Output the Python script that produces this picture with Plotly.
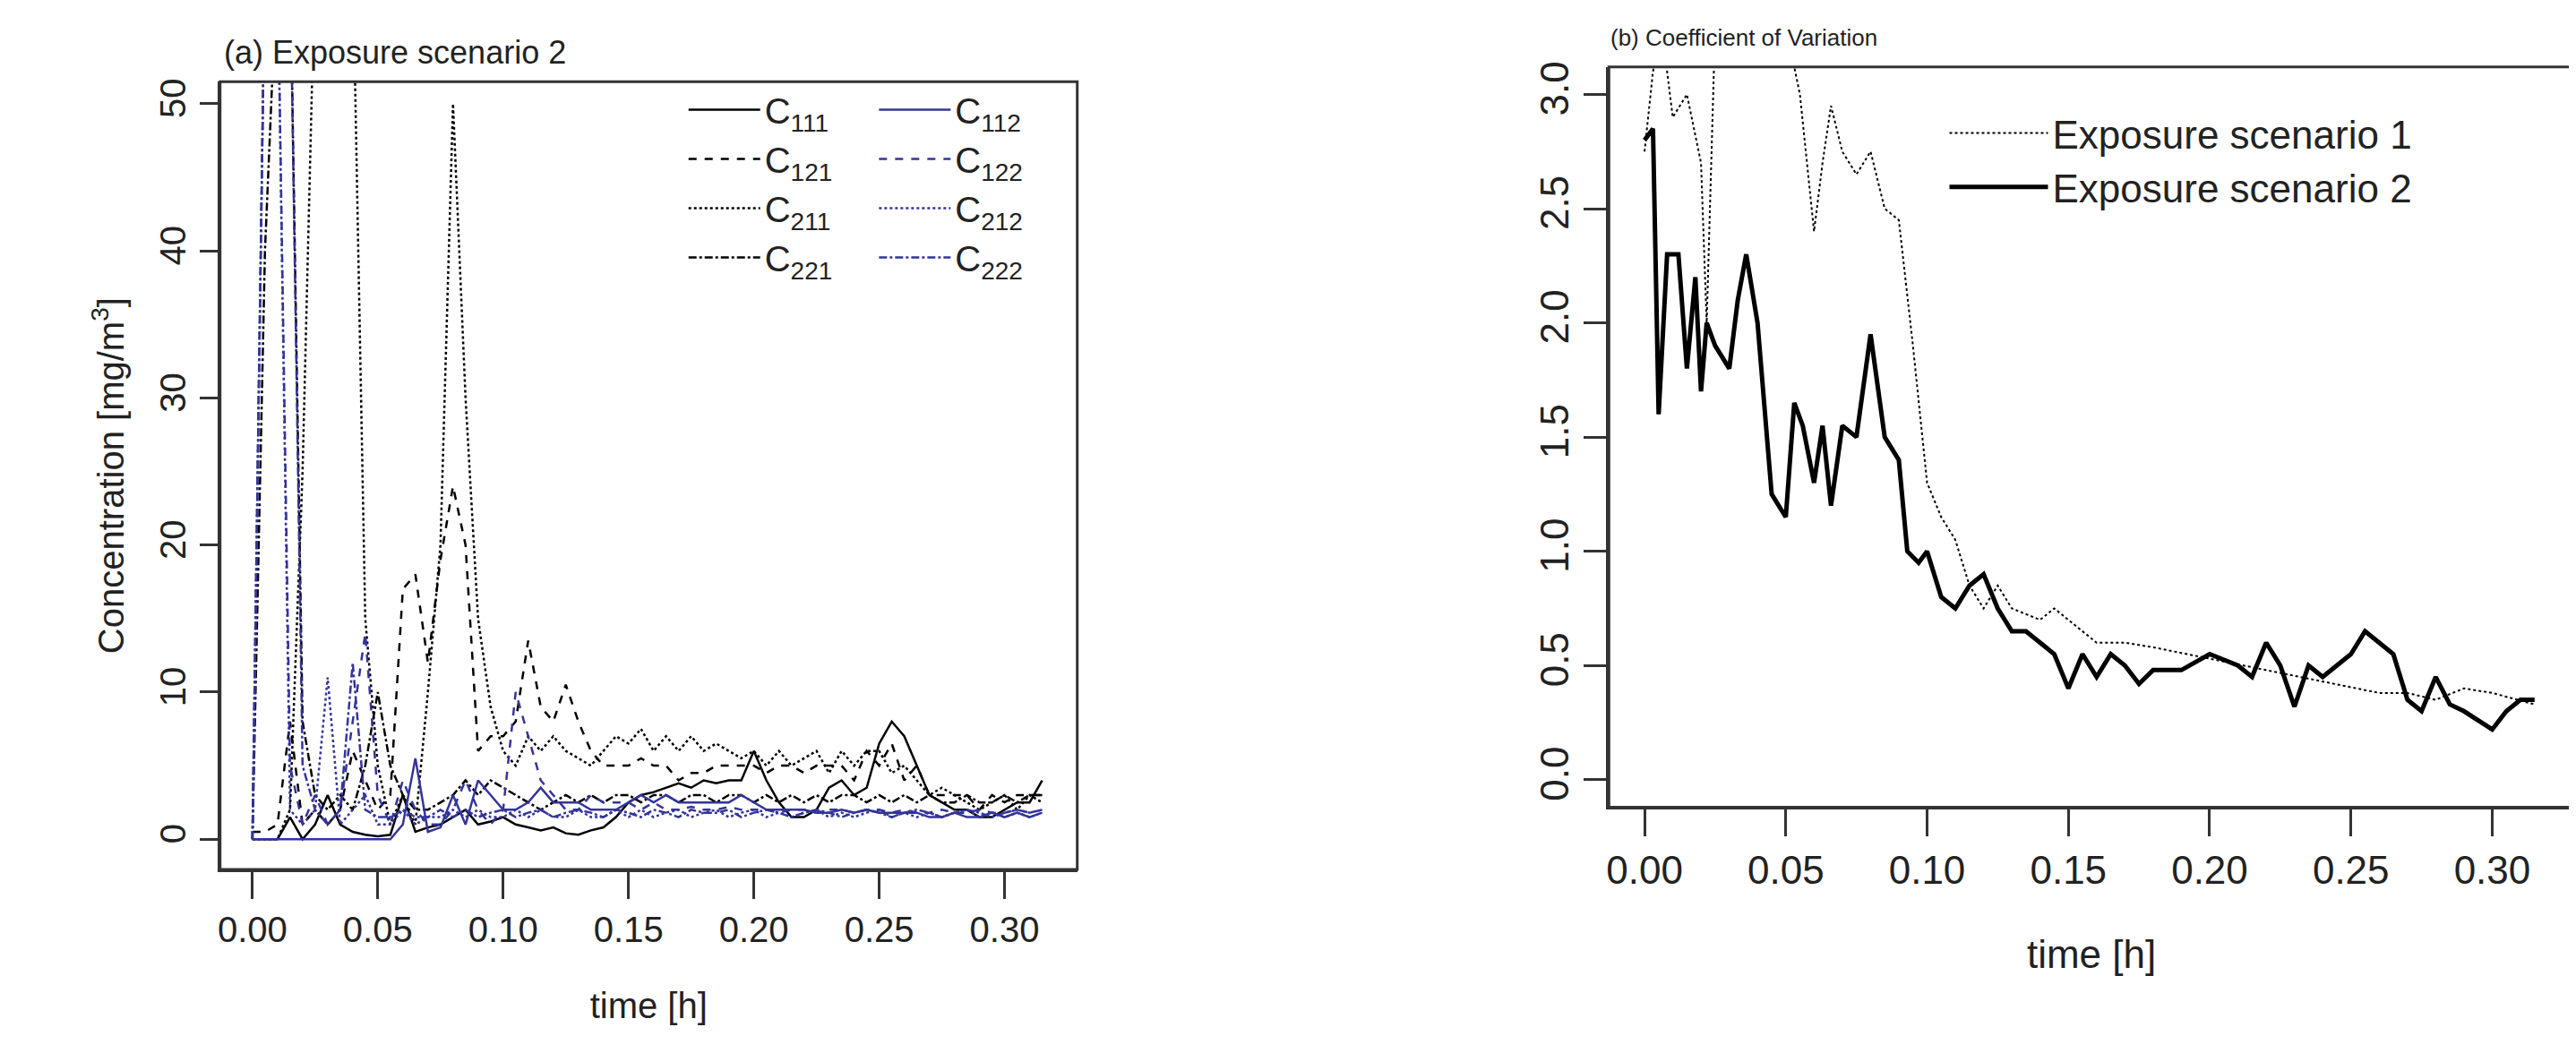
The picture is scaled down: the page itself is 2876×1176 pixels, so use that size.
import plotly.graph_objects as go

t = [0.000,0.005,0.010,0.015,0.020,0.025,0.030,0.035,0.040,0.045,0.050,0.055,0.060,0.065,0.070,0.075,
     0.080,0.085,0.090,0.095,0.100,0.105,0.110,0.115,0.120,0.125,0.130,0.135,0.140,0.145,0.150,0.155,
     0.160,0.165,0.170,0.175,0.180,0.185,0.190,0.195,0.200,0.205,0.210,0.215,0.220,0.225,0.230,0.235,
     0.240,0.245,0.250,0.255,0.260,0.265,0.270,0.275,0.280,0.285,0.290,0.295,0.300,0.305,0.310,0.315]

C111 = [0,0,0,1.5,0,1,3,1,0.5,0.3,0.2,0.3,3,0.5,0.8,1,1.5,2,1,1.2,1.5,1,0.8,0.6,0.8,0.4,0.3,0.6,0.8,1.5,2.5,3,
        3.2,3.5,3.8,3.5,4,3.8,4,4,6,4,2.5,1.5,1.5,2,3.5,4,3,3.5,6.5,8,7,5,3,2.5,2,2,1.5,1.5,2,2.5,2.5,4]
C112 = [0,0,0,0,0,0,0,0,0,0,0,0,1,5.5,0.5,0.8,3,1,4,3,2,2,2.5,3.5,2.5,2.5,2.5,2,2,2,2.5,3,
        2.5,3,2.5,2.5,2.5,2.5,2.5,3,2.5,2,2,2,2,1.8,1.8,2,1.8,2,1.8,1.8,1.8,1.8,1.5,1.5,1.8,1.5,1.5,1.8,1.5,1.8,1.5,1.8]
C121 = [0.5,0.5,1,8,1,2,1,2,6,4,2,3,17,18,12,19,24,20,6,7,7,8,13.5,9,8,10.5,8,6,5,5,5,5.5,
        5,5,4,4.5,4.5,5,5,5,5,4.5,5,5,4.5,5,5,5,4,6,5,6.5,4,5,3,3,3,3,2,3,2.5,3,3,3]
C122 = [0,60,60,5,1,3,1,2,8,14,3,1,4,2,1,1,2,4,2,1,2,10,7,4,3,2,2,3,2.5,2.5,2.5,2,
        2.5,2,2,2.2,2,2,2.2,2,2,2,1.8,2,2,1.8,2,2,1.8,2,2,1.8,2,1.8,1.8,2,1.8,1.8,2,1.8,1.8,2,1.8,2]
C211 = [0,0,0,2,25,60,60,60,60,15,5,1,3,1,10,20,50,30,15,9,6,5,7,6,7,6,5.5,5,6,7,6.5,7.5,
        6,7,6,7,6,6.5,6,5.5,6,5,6,5,5.5,6,4.5,6,5,6,6,4.5,5,4,3,3.5,3,2.5,2,2.5,3,2,3,2.5]
C212 = [0,60,60,2,1,2,11,1,2,3,1,1,2,1,1.5,1.5,2,1.5,2,1.5,1.5,2,1.5,2,1.5,1.5,2,1.5,1.5,2,1.5,2,
        1.5,1.8,2,1.5,1.8,2,1.5,1.8,2,1.5,1.8,1.5,1.8,2,1.5,1.8,1.5,1.8,2,1.5,1.8,1.5,1.8,1.5,1.8,2,1.5,1.8,1.5,1.8,1.5,1.8]
C221 = [0,40,60,60,8,3,2,3,2,5,10,5,3,2,2,2.5,3,4,3,4,3.5,3,2.5,2,2.5,3,2.5,3,2.5,3,3,2.5,
        3,3,2.5,3,3,2.5,3,3,2.5,3,2.5,3,2.5,3,2.5,3,3,2.5,3,2.5,3,2.5,3,2.5,2.5,3,2.5,2.5,3,2.5,3,3]
C222 = [0,60,60,60,5,2,1,2,12,2,1.5,1.5,2,1.5,1.5,2,1.5,2,1.5,1.8,2,1.5,1.8,2,1.5,1.8,2,1.8,1.5,2,1.8,1.5,
        2,1.8,1.5,2,1.8,1.8,2,1.5,1.8,2,1.8,1.5,1.8,2,1.8,1.5,1.8,2,1.8,1.5,1.8,2,1.8,1.5,1.8,2,1.8,1.5,1.8,2,1.8,2]

t_cv2 = [0.000,0.003,0.005,0.008,0.012,0.015,0.018,0.020,0.022,0.025,0.030,0.033,0.036,0.040,0.045,0.050,
         0.053,0.056,0.060,0.063,0.066,0.070,0.075,0.080,0.085,0.090,0.093,0.097,0.100,0.105,0.110,0.115,
         0.120,0.125,0.130,0.135,0.140,0.145,0.150,0.155,0.160,0.165,0.170,0.175,0.180,0.190,0.200,0.210,
         0.215,0.220,0.225,0.230,0.235,0.240,0.245,0.250,0.255,0.260,0.265,0.270,0.275,0.280,0.285,0.290,
         0.300,0.305,0.310,0.315]
cv2 = [2.8,2.85,1.6,2.3,2.3,1.8,2.2,1.7,2.0,1.9,1.8,2.1,2.3,2.0,1.25,1.15,
       1.65,1.55,1.3,1.55,1.2,1.55,1.5,1.95,1.5,1.4,1.0,0.95,1.0,0.8,0.75,0.85,
       0.9,0.75,0.65,0.65,0.6,0.55,0.4,0.55,0.45,0.55,0.5,0.42,0.48,0.48,0.55,0.5,
       0.45,0.6,0.5,0.32,0.5,0.45,0.5,0.55,0.65,0.6,0.55,0.35,0.3,0.45,0.33,0.3,
       0.22,0.3,0.35,0.35]
t_cv1 = [0.000,0.003,0.006,0.010,0.015,0.020,0.022,0.025,0.030,0.040,0.050,0.055,0.060,0.063,0.066,0.070,
         0.075,0.080,0.085,0.090,0.095,0.100,0.105,0.110,0.115,0.120,0.125,0.130,0.140,0.145,0.150,0.155,
         0.160,0.170,0.180,0.200,0.220,0.240,0.260,0.270,0.280,0.290,0.300,0.315]
cv1 = [2.75,3.1,3.3,2.9,3.0,2.7,2.0,3.3,3.4,3.4,3.3,3.0,2.4,2.7,2.95,2.75,
       2.65,2.75,2.5,2.45,1.9,1.3,1.15,1.05,0.85,0.75,0.85,0.75,0.7,0.75,0.7,0.65,
       0.6,0.6,0.58,0.53,0.48,0.43,0.38,0.38,0.35,0.4,0.38,0.33]

xticks = [0.00,0.05,0.10,0.15,0.20,0.25,0.30]
xlabels = ["0.00","0.05","0.10","0.15","0.20","0.25","0.30"]
yticks_a = [0,10,20,30,40,50]
yticks_b = [0.0,0.5,1.0,1.5,2.0,2.5,3.0]
ylabels_b = ["0.0","0.5","1.0","1.5","2.0","2.5","3.0"]

BLUE = "#34349a"
fig = go.Figure()
series = [("C<sub>111</sub>", C111, "black", "solid", "legend"),
          ("C<sub>121</sub>", C121, "black", "dash", "legend"),
          ("C<sub>211</sub>", C211, "black", "dot", "legend"),
          ("C<sub>221</sub>", C221, "black", "dashdot", "legend"),
          ("C<sub>112</sub>", C112, BLUE, "solid", "legend2"),
          ("C<sub>122</sub>", C122, BLUE, "dash", "legend2"),
          ("C<sub>212</sub>", C212, BLUE, "dot", "legend2"),
          ("C<sub>222</sub>", C222, BLUE, "dashdot", "legend2")]
for name, y, c, d, lg in series:
    fig.add_trace(go.Scatter(x=t, y=y, mode="lines", name=name, legend=lg,
                             line=dict(color=c, dash=d, width=2.5), xaxis="x", yaxis="y"))

fig.add_trace(go.Scatter(x=t_cv1, y=cv1, mode="lines", name="Exposure scenario 1", legend="legend3",
                         line=dict(color="black", dash="dot", width=2), xaxis="x2", yaxis="y2"))
fig.add_trace(go.Scatter(x=t_cv2, y=cv2, mode="lines", name="Exposure scenario 2", legend="legend3",
                         line=dict(color="black", width=5), xaxis="x2", yaxis="y2"))

fa = dict(family="Liberation Sans Narrow, Liberation Sans, Arial", color="#222", size=40)
fb = dict(family="Liberation Sans, Arial", color="#222", size=44)
axc = dict(showline=True, linecolor="#333", linewidth=3, showgrid=False, zeroline=False,
           ticks="outside", tickwidth=3, tickcolor="#333")
fig.update_layout(
    width=2876, height=1176, paper_bgcolor="white", plot_bgcolor="white",
    margin=dict(l=0, r=0, t=0, b=0),
    xaxis=dict(domain=[0.0817, 0.4148], range=[-0.0129, 0.329], tickvals=xticks, ticktext=xlabels,
               anchor="y", ticklen=30, tickfont=fa, title=dict(text="time [h]", font=fa, standoff=50), **axc),
    yaxis=dict(domain=[0.182, 0.934], range=[-2.06, 51.5], tickvals=yticks_a, tickangle=-90,
               anchor="x", ticklen=20, tickfont=fa,
               title=dict(text="Concentration [mg/m<sup>3</sup>]", font=fa, standoff=20), **axc),
    xaxis2=dict(domain=[0.6214, 0.9965], range=[-0.0126, 0.329], tickvals=xticks, ticktext=xlabels,
                anchor="y2", ticklen=30, tickfont=fb, title=dict(text="time [h]", font=fb, standoff=55), **axc),
    yaxis2=dict(domain=[0.2415, 0.948], range=[-0.12, 3.12], tickvals=yticks_b, ticktext=ylabels_b,
                anchor="x2", tickangle=-90, ticklen=25, tickfont=fb, **axc),
    legend=dict(x=0.262, y=0.935, xanchor="left", yanchor="top", font=fa, itemwidth=80,
                tracegroupgap=0, bgcolor="rgba(0,0,0,0)"),
    legend2=dict(x=0.336, y=0.935, xanchor="left", yanchor="top", font=fa, itemwidth=80,
                 tracegroupgap=0, bgcolor="rgba(0,0,0,0)"),
    legend3=dict(x=0.752, y=0.915, xanchor="left", yanchor="top", font=fb, itemwidth=110,
                 tracegroupgap=0, bgcolor="rgba(0,0,0,0)"),
    shapes=[
        dict(type="rect", xref="x domain", yref="y domain", x0=0, x1=1, y0=0, y1=1,
             line=dict(color="#333", width=3), layer="above"),
        dict(type="rect", xref="x2 domain", yref="y2 domain", x0=0, x1=1, y0=0, y1=1,
             line=dict(color="#333", width=3), layer="above"),
    ],
    annotations=[
        dict(text="(a) Exposure scenario 2", x=0.0825, y=1 - 45/1176, xref="paper", yref="paper",
             xanchor="left", yanchor="middle", showarrow=False,
             font=dict(family="Liberation Sans Narrow, Liberation Sans", size=36, color="#222")),
        dict(text="(b) Coefficient of Variation", x=0.6214, y=1 - 28/1176, xref="paper", yref="paper",
             xanchor="left", yanchor="middle", showarrow=False,
             font=dict(family="Liberation Sans, Arial", size=26, color="#222")),
    ],
)
fig.write_html("out.html")
